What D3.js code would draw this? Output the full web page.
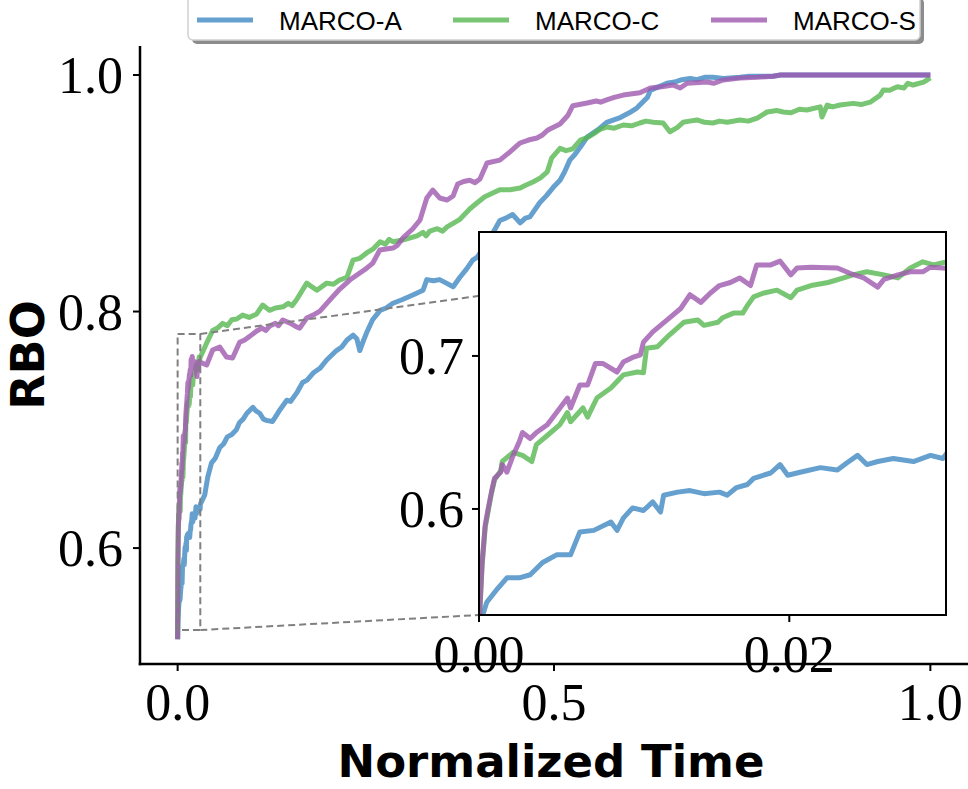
<!DOCTYPE html>
<html>
<head>
<meta charset="utf-8">
<script src="https://cdn.jsdelivr.net/npm/d3@7/dist/d3.min.js"></script>
<style>
  * { margin:0; padding:0; }
  body { background:#fff; width:968px; height:789px; overflow:hidden; }
  svg { display:block; }
  .tick-num { font-family:'Liberation Serif','Times New Roman',serif; font-size:52px; fill:#000; }
  .ax-title { font-family:'DejaVu Sans',sans-serif; font-weight:bold; fill:#000; }
  .leg-text { font-family:'Liberation Sans',Arial,sans-serif; font-size:26px; fill:#000; }
</style>
</head>
<body>
<svg id="chart" width="968" height="789"></svg>
<script>
// ── Data (normalized time, RBO) ───────────────────────────────────────────────
const seriesNames  = ["MARCO-A", "MARCO-C", "MARCO-S"];
const seriesColors = ["#4088c3", "#56b850", "#9f59ae"];

const xTicks      = [0.0, 0.5, 1.0];
const yTicks      = [0.6, 0.8, 1.0];
const insetXTicks = [0.00, 0.02];
const insetYTicks = [0.6, 0.7];

const marcoA = [
  [0,0.523],[0.0005,0.539],[0.0012,0.548],[0.0018,0.555],[0.0026,0.555],[0.0033,0.557],
  [0.0041,0.565],[0.0050,0.570],[0.0059,0.570],[0.0065,0.585],[0.0074,0.586],[0.0085,0.5915],
  [0.0089,0.586],[0.0093,0.594],[0.0099,0.6007],[0.0106,0.599],[0.0112,0.6046],[0.0117,0.598],
  [0.0119,0.609],[0.0128,0.611],[0.0136,0.612],[0.0145,0.610],[0.0155,0.611],[0.0160,0.609],
  [0.0166,0.614],[0.0173,0.616],[0.0177,0.620],[0.0188,0.6235],[0.0194,0.629],[0.0199,0.622],
  [0.0207,0.624],[0.0220,0.627],[0.0231,0.6255],[0.0237,0.630],[0.0244,0.635],[0.0250,0.629],
  [0.0257,0.631],[0.0267,0.633],[0.0280,0.631],[0.0291,0.635],[0.0299,0.633],[0.0302,0.637],
  [0.036,0.645],[0.040,0.660],[0.045,0.672],[0.050,0.676],[0.056,0.685],[0.061,0.688],
  [0.066,0.694],[0.072,0.696],[0.078,0.700],[0.082,0.706],[0.087,0.709],[0.092,0.714],
  [0.100,0.719],[0.104,0.716],[0.109,0.714],[0.114,0.709],[0.118,0.708],[0.126,0.707],
  [0.131,0.712],[0.136,0.717],[0.145,0.725],[0.150,0.724],[0.158,0.731],[0.166,0.740],
  [0.172,0.742],[0.180,0.748],[0.189,0.752],[0.198,0.759],[0.211,0.767],[0.218,0.770],
  [0.225,0.776],[0.233,0.780],[0.238,0.777],[0.242,0.767],[0.246,0.774],[0.251,0.782],
  [0.259,0.793],[0.269,0.801],[0.277,0.803],[0.286,0.807],[0.298,0.810],[0.3125,0.814],
  [0.326,0.818],[0.331,0.827],[0.340,0.826],[0.348,0.827],[0.357,0.824],[0.366,0.821],
  [0.375,0.829],[0.384,0.836],[0.392,0.8435],[0.398,0.846],[0.415,0.862],[0.428,0.877],
  [0.436,0.879],[0.445,0.882],[0.455,0.875],[0.462,0.879],[0.468,0.880],[0.481,0.892],
  [0.490,0.898],[0.499,0.905],[0.508,0.911],[0.514,0.918],[0.521,0.928],[0.528,0.933],
  [0.535,0.939],[0.544,0.9475],[0.561,0.955],[0.570,0.960],[0.588,0.964],[0.600,0.968],
  [0.610,0.972],[0.624,0.981],[0.628,0.987],[0.650,0.993],[0.660,0.994],[0.670,0.996],
  [0.681,0.997],[0.690,0.996],[0.700,0.998],[0.711,0.998],[0.725,0.997],[0.747,0.998],
  [0.760,0.999],[0.791,0.999],[0.801,1.0],[1.0,1.0]
];

const marcoC = [
  [0,0.523],[0.0002,0.563],[0.0004,0.588],[0.0006,0.599],[0.0008,0.610],[0.0010,0.619],
  [0.0014,0.625],[0.0015,0.631],[0.0022,0.637],[0.0028,0.635],[0.0034,0.631],[0.0037,0.642],
  [0.0044,0.648],[0.0052,0.655],[0.0057,0.663],[0.0059,0.657],[0.0067,0.666],[0.0070,0.660],
  [0.0076,0.6725],[0.0085,0.679],[0.0093,0.6876],[0.0102,0.6895],[0.0106,0.689],[0.0108,0.705],
  [0.0115,0.706],[0.0123,0.714],[0.0132,0.722],[0.0141,0.7235],[0.0145,0.720],[0.0154,0.722],
  [0.0157,0.725],[0.0164,0.728],[0.0170,0.728],[0.0173,0.733],[0.0177,0.7386],[0.0183,0.741],
  [0.0192,0.743],[0.0201,0.738],[0.0205,0.743],[0.0214,0.746],[0.0225,0.748],[0.0235,0.751],
  [0.0241,0.753],[0.0250,0.755],[0.0261,0.753],[0.0270,0.751],[0.0278,0.7575],[0.0286,0.7615],
  [0.0293,0.7595],[0.0299,0.761],[0.0305,0.762],
  [0.0386,0.7734],[0.0465,0.784],[0.0530,0.786],[0.0598,0.790],[0.066,0.788],[0.072,0.793],
  [0.0785,0.7937],[0.0864,0.797],[0.095,0.795],[0.105,0.798],[0.113,0.8055],[0.122,0.801],
  [0.130,0.803],[0.140,0.804],[0.147,0.807],[0.152,0.805],[0.158,0.810],[0.1715,0.824],
  [0.178,0.821],[0.185,0.818],[0.198,0.824],[0.207,0.823],[0.215,0.8266],[0.225,0.829],
  [0.233,0.8435],[0.242,0.845],[0.251,0.8495],[0.260,0.853],[0.269,0.859],[0.276,0.857],
  [0.281,0.861],[0.286,0.859],[0.299,0.8605],[0.308,0.862],[0.318,0.864],[0.326,0.867],
  [0.330,0.864],[0.335,0.868],[0.345,0.870],[0.352,0.868],[0.358,0.8715],[0.375,0.878],
  [0.388,0.8867],[0.398,0.892],[0.408,0.897],[0.418,0.900],[0.428,0.903],[0.4415,0.903],
  [0.455,0.9045],[0.463,0.907],[0.472,0.9095],[0.482,0.913],[0.491,0.918],[0.497,0.930],
  [0.508,0.938],[0.516,0.936],[0.525,0.9375],[0.535,0.945],[0.544,0.947],[0.552,0.950],
  [0.561,0.954],[0.570,0.956],[0.580,0.955],[0.592,0.9577],[0.603,0.957],[0.614,0.9594],
  [0.622,0.961],[0.632,0.960],[0.645,0.9594],[0.654,0.952],[0.6636,0.9555],[0.6715,0.960],
  [0.680,0.961],[0.690,0.962],[0.700,0.960],[0.711,0.9594],[0.720,0.961],[0.730,0.960],
  [0.747,0.962],[0.758,0.961],[0.770,0.9636],[0.783,0.9687],[0.796,0.970],[0.8045,0.9687],
  [0.815,0.968],[0.826,0.971],[0.836,0.9704],[0.8537,0.973],[0.856,0.9645],[0.863,0.9746],
  [0.870,0.973],[0.880,0.9746],[0.8976,0.976],[0.908,0.975],[0.920,0.977],[0.9335,0.983],
  [0.9375,0.9873],[0.946,0.987],[0.956,0.990],[0.965,0.989],[0.970,0.993],[0.977,0.9915],
  [0.991,0.994],[1.0,0.9975]
];

const marcoS = [
  [0,0.523],[0.0002,0.565],[0.0004,0.5895],[0.0006,0.6007],[0.0008,0.611],[0.0010,0.620],
  [0.0014,0.624],[0.0015,0.629],[0.0018,0.624],[0.0022,0.635],[0.0026,0.644],[0.0028,0.650],
  [0.0033,0.646],[0.0037,0.650],[0.0044,0.655],[0.0050,0.663],[0.0057,0.6725],[0.0059,0.666],
  [0.0065,0.681],[0.0070,0.681],[0.0075,0.695],[0.0080,0.695],[0.0089,0.6895],[0.0093,0.696],
  [0.0099,0.699],[0.0104,0.7007],[0.0106,0.709],[0.0112,0.7157],[0.0123,0.725],[0.0130,0.731],
  [0.0136,0.740],[0.0143,0.735],[0.0149,0.741],[0.0155,0.746],[0.0162,0.748],[0.0168,0.751],
  [0.0175,0.746],[0.0179,0.7595],[0.0188,0.7595],[0.0194,0.762],[0.0201,0.753],[0.0205,0.7575],
  [0.0214,0.758],[0.0231,0.7575],[0.0239,0.754],[0.0248,0.751],[0.0257,0.745],[0.0261,0.750],
  [0.0270,0.753],[0.0278,0.755],[0.0286,0.755],[0.0291,0.758],[0.0299,0.7575],[0.0305,0.757],
  [0.0386,0.7548],[0.0465,0.7675],[0.0559,0.770],[0.065,0.7615],[0.073,0.7607],[0.0824,0.774],
  [0.089,0.776],[0.0957,0.779],[0.105,0.7835],[0.112,0.786],[0.117,0.784],[0.1223,0.7877],
  [0.130,0.790],[0.134,0.788],[0.1396,0.7928],[0.150,0.790],[0.158,0.787],[0.1622,0.786],
  [0.1715,0.7945],[0.180,0.797],[0.189,0.8004],[0.202,0.8097],[0.2154,0.819],[0.2287,0.8266],
  [0.242,0.8326],[0.250,0.836],[0.2593,0.841],[0.2686,0.852],[0.286,0.8537],[0.292,0.856],
  [0.299,0.862],[0.3125,0.870],[0.322,0.8774],[0.331,0.896],[0.339,0.9027],[0.348,0.896],
  [0.358,0.8943],[0.366,0.8977],[0.372,0.9078],[0.380,0.910],[0.388,0.911],[0.395,0.909],
  [0.4016,0.912],[0.411,0.9256],[0.428,0.928],[0.4415,0.935],[0.455,0.9425],[0.466,0.945],
  [0.4774,0.9467],[0.484,0.949],[0.492,0.9535],[0.508,0.9586],[0.5186,0.966],[0.525,0.974],
  [0.544,0.9763],[0.556,0.978],[0.562,0.977],[0.570,0.979],[0.580,0.981],[0.592,0.983],
  [0.614,0.985],[0.628,0.989],[0.643,0.990],[0.658,0.9915],[0.6676,0.989],[0.677,0.993],
  [0.7035,0.994],[0.712,0.993],[0.725,0.9958],[0.747,0.9975],[0.770,0.998],[0.791,0.999],
  [0.801,1.0],[1.0,1.0]
];

const allSeries = [marcoA, marcoC, marcoS];

// ── Scales ───────────────────────────────────────────────────────────────────
const main  = { left:140, right:968, top:46, bottom:664 };
const inset = { left:479, right:946, top:232, bottom:615 };
const insetXDomain = [0, 0.0301];
const insetYDomain = [0.5307, 0.781];

const x  = d3.scaleLinear().domain([-0.05, 1.05]).range([main.left, main.right]);
const y  = d3.scaleLinear().domain([0.502, 1.0245]).range([main.bottom, main.top]);
const xi = d3.scaleLinear().domain(insetXDomain).range([inset.left, inset.right]);
const yi = d3.scaleLinear().domain(insetYDomain).range([inset.bottom, inset.top]);

const svg  = d3.select("#chart");
const defs = svg.append("defs");
defs.append("clipPath").attr("id", "clip-main").append("rect")
  .attr("x", main.left).attr("y", main.top)
  .attr("width", main.right - main.left).attr("height", main.bottom - main.top);
defs.append("clipPath").attr("id", "clip-inset").append("rect")
  .attr("x", inset.left).attr("y", inset.top)
  .attr("width", inset.right - inset.left).attr("height", inset.bottom - inset.top);

function drawLines(g, sx, sy) {
  const line = d3.line().x(d => sx(d[0])).y(d => sy(d[1]));
  g.selectAll("path.series")
    .data(allSeries)
    .join("path")
    .attr("class", "series")
    .attr("d", line)
    .attr("fill", "none")
    .attr("stroke", (d, i) => seriesColors[i])
    .attr("stroke-opacity", 0.8)
    .attr("stroke-width", 5)
    .attr("stroke-linejoin", "round");
}

// ── Main plot lines ──────────────────────────────────────────────────────────
drawLines(svg.append("g").attr("clip-path", "url(#clip-main)"), x, y);

// ── Zoom indicator (dashed rect + connectors) ────────────────────────────────
const zx0 = x(insetXDomain[0]), zx1 = x(insetXDomain[1]);
const zy0 = y(insetYDomain[0]), zy1 = y(insetYDomain[1]);
const dash = svg.append("g")
  .attr("fill", "none").attr("stroke", "#808080")
  .attr("stroke-width", 2).attr("stroke-dasharray", "7,4");
dash.append("rect").attr("x", zx0).attr("y", zy1)
  .attr("width", zx1 - zx0).attr("height", zy0 - zy1);
dash.append("line").attr("x1", zx1).attr("y1", zy1).attr("x2", inset.right).attr("y2", inset.top);
dash.append("line").attr("x1", zx1).attr("y1", zy0).attr("x2", inset.left).attr("y2", inset.bottom);

// ── Main axes ────────────────────────────────────────────────────────────────
const ax = svg.append("g").attr("stroke", "#000");
ax.append("line").attr("x1", main.left).attr("x2", main.left)
  .attr("y1", main.top).attr("y2", main.bottom + 1.25).attr("stroke-width", 2.5);
ax.append("line").attr("x1", main.left - 1.25).attr("x2", main.right)
  .attr("y1", main.bottom).attr("y2", main.bottom).attr("stroke-width", 2.5);
ax.selectAll("line.yt").data(yTicks).join("line").attr("class", "yt")
  .attr("x1", main.left - 7).attr("x2", main.left)
  .attr("y1", d => y(d)).attr("y2", d => y(d)).attr("stroke-width", 2);
ax.selectAll("line.xt").data(xTicks).join("line").attr("class", "xt")
  .attr("x1", d => x(d)).attr("x2", d => x(d))
  .attr("y1", main.bottom).attr("y2", main.bottom + 7).attr("stroke-width", 2);

svg.selectAll("text.ylab").data(yTicks).join("text")
  .attr("class", "ylab tick-num")
  .attr("x", main.left - 17).attr("y", d => y(d) + 18)
  .attr("text-anchor", "end")
  .text(d => d.toFixed(1));
svg.selectAll("text.xlab").data(xTicks).join("text")
  .attr("class", "xlab tick-num")
  .attr("x", d => x(d)).attr("y", 720)
  .attr("text-anchor", "middle")
  .text(d => d.toFixed(1));

svg.append("text").attr("class", "ax-title")
  .attr("font-size", 45)
  .attr("x", (main.left + main.right) / 2 - 3).attr("y", 777)
  .attr("text-anchor", "middle")
  .text("Normalized Time");
svg.append("text").attr("class", "ax-title")
  .attr("font-size", 46)
  .attr("transform", "translate(44,355) rotate(-90)")
  .attr("text-anchor", "middle")
  .text("RBO");

// ── Inset ────────────────────────────────────────────────────────────────────
svg.append("rect")
  .attr("x", inset.left).attr("y", inset.top)
  .attr("width", inset.right - inset.left).attr("height", inset.bottom - inset.top)
  .attr("fill", "#fff");
drawLines(svg.append("g").attr("clip-path", "url(#clip-inset)"), xi, yi);
svg.append("rect")
  .attr("x", inset.left).attr("y", inset.top)
  .attr("width", inset.right - inset.left).attr("height", inset.bottom - inset.top)
  .attr("fill", "none").attr("stroke", "#000").attr("stroke-width", 2);

const ia = svg.append("g").attr("stroke", "#000").attr("stroke-width", 2);
ia.selectAll("line.iyt").data(insetYTicks).join("line").attr("class", "iyt")
  .attr("x1", inset.left - 7).attr("x2", inset.left)
  .attr("y1", d => yi(d)).attr("y2", d => yi(d));
ia.selectAll("line.ixt").data(insetXTicks).join("line").attr("class", "ixt")
  .attr("x1", d => xi(d)).attr("x2", d => xi(d))
  .attr("y1", inset.bottom).attr("y2", inset.bottom + 7);

svg.selectAll("text.iylab").data(insetYTicks).join("text")
  .attr("class", "iylab tick-num")
  .attr("x", inset.left - 15).attr("y", d => yi(d) + 18)
  .attr("text-anchor", "end")
  .text(d => d.toFixed(1));
svg.selectAll("text.ixlab").data(insetXTicks).join("text")
  .attr("class", "ixlab tick-num")
  .attr("x", d => xi(d)).attr("y", 672)
  .attr("text-anchor", "middle")
  .text(d => d.toFixed(2));

// ── Legend ───────────────────────────────────────────────────────────────────
const leg = svg.append("g");
leg.append("rect").attr("x", 192).attr("y", -2).attr("width", 732).attr("height", 46)
  .attr("rx", 5).attr("fill", "#8c8c8c");
leg.append("rect").attr("x", 188).attr("y", -6).attr("width", 732).attr("height", 46)
  .attr("rx", 5).attr("fill", "#fff").attr("stroke", "#d0d0d0").attr("stroke-width", 1.5);
const legX = [197, 453, 711];
const items = leg.selectAll("g.item").data(seriesNames).join("g").attr("class", "item")
  .attr("transform", (d, i) => "translate(" + legX[i] + ",20)");
items.append("line").attr("x1", 0).attr("x2", 56).attr("y1", 0).attr("y2", 0)
  .attr("stroke", (d, i) => seriesColors[i]).attr("stroke-opacity", 0.8).attr("stroke-width", 5);
items.append("text").attr("class", "leg-text")
  .attr("x", 82).attr("y", 9.5)
  .text(d => d);
</script>
</body>
</html>
